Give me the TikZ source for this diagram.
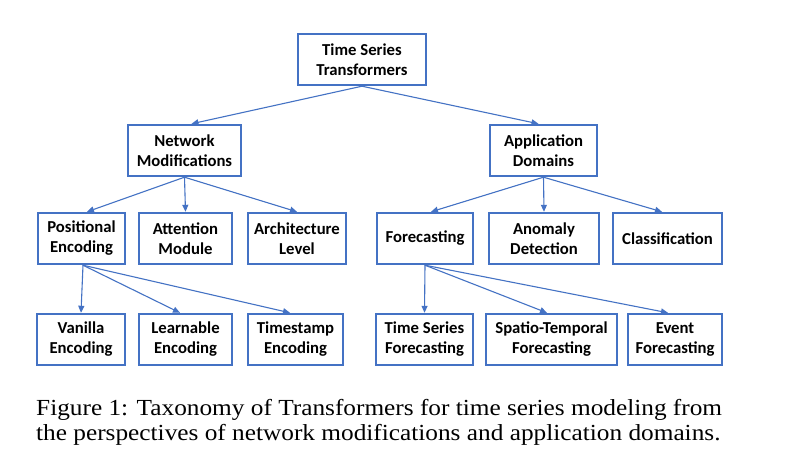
\documentclass[tikz,border=0pt]{standalone}
\usepackage{fontspec}
\setmainfont{Carlito}
\newfontfamily\capfont[FakeStretch=1.1]{Liberation Serif}
\usetikzlibrary{arrows.meta}
\definecolor{boxblue}{RGB}{68,114,196}
\tikzset{
  tbox/.style={draw=boxblue, line width=2.4pt, fill=white, align=center,
    font=\bfseries\fontsize{16.7}{20}\selectfont, inner sep=0pt,
    minimum height=51pt},
  conn/.style={draw=boxblue, line width=1.1pt, -{Triangle[length=7pt,width=6pt]}},
  captxt/.style={anchor=base west, inner sep=0pt, font=\capfont\fontsize{23}{25}\selectfont}
}
\begin{document}
\begin{tikzpicture}[x=1pt,y=-1pt]
\useasboundingbox[fill=white] (0,0) rectangle (806,466);
% level 0
\node[tbox, minimum width=128pt] (ts) at (362,59.5) {Time Series\\Transformers};
% level 1
\node[tbox, minimum width=113pt] (net) at (184.5,150.5) {Network\\Modifications};
\node[tbox, minimum width=107pt] (app) at (543.5,150.5) {Application\\Domains};
% level 2
\node[tbox, minimum width=87pt] (pos) at (81.5,238.5) {Positional\\Encoding};
\node[tbox, minimum width=93pt] (att) at (185.5,238.5) {Attention\\Module};
\node[tbox, minimum width=98pt] (arch) at (297,238.5) {Architecture\\Level};
\node[tbox, minimum width=96pt] (fore) at (425,238.5) {Forecasting};
\node[tbox, minimum width=110pt] (anom) at (544,238.5) {Anomaly\\Detection};
\node[tbox, minimum width=109pt] (cls) at (667.5,238.5) {Classification};
% level 3
\node[tbox, minimum width=88pt] (van) at (81,339.5) {Vanilla\\Encoding};
\node[tbox, minimum width=93pt] (learn) at (185.5,339.5) {Learnable\\Encoding};
\node[tbox, minimum width=95pt] (stamp) at (295.5,339.5) {Timestamp\\Encoding};
\node[tbox, minimum width=97pt] (tsf) at (424.5,339.5) {Time Series\\Forecasting};
\node[tbox, minimum width=131pt] (stf) at (551.5,339.5) {Spatio-Temporal\\Forecasting};
\node[tbox, minimum width=94pt] (evf) at (675,339.5) {Event\\Forecasting};
% connectors
\draw[conn] (ts.south) -- ([xshift=7pt]net.north);
\draw[conn] (ts.south) -- ([xshift=-5pt]app.north);
\draw[conn] (net.south) -- ([xshift=5.5pt]pos.north);
\draw[conn] (net.south) -- (att.north);
\draw[conn] (net.south) -- (arch.north);
\draw[conn] (app.south) -- ([xshift=6pt]fore.north);
\draw[conn] (app.south) -- (anom.north);
\draw[conn] (app.south) -- ([xshift=-5.5pt]cls.north);
\draw[conn] ([xshift=1.5pt]pos.south) -- (van.north);
\draw[conn] ([xshift=1.5pt]pos.south) -- ([xshift=-5.5pt]learn.north);
\draw[conn] ([xshift=1.5pt]pos.south) -- ([xshift=-5.5pt]stamp.north);
\draw[conn] (fore.south) -- (tsf.north);
\draw[conn] (fore.south) -- ([xshift=-4.5pt]stf.north);
\draw[conn] (fore.south) -- ([xshift=-7pt]evf.north);
% caption
\node[captxt] (cap1) at (36,415) {Figure 1: Taxonomy of Transformers for time series modeling from};
\node[captxt] (cap2) at (36,440) {the perspectives of network modifications and application domains.};
\end{tikzpicture}
\end{document}
